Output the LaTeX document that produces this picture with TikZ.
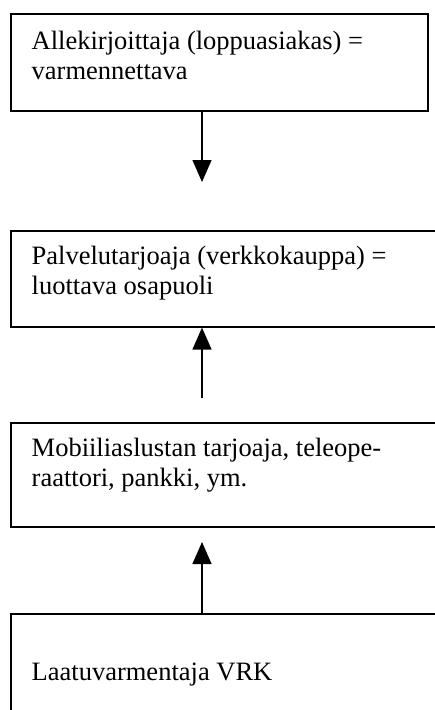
\documentclass[tikz,border=0pt]{standalone}
\usepackage{fontspec}
\setmainfont{Liberation Serif}
\usetikzlibrary{positioning,arrows.meta}

\begin{document}
\begin{tikzpicture}[
		x=1pt,y=-1pt,
		box/.style={
			draw,
			rectangle,
			line width=1.6pt,
			anchor=north west,
			inner sep=0pt,
			minimum width=417pt
		},
		txt/.style={
			anchor=base west,
			inner sep=0pt,
			align=left,
			font=\fontsize{26.5}{30}\selectfont
		},
		>={Triangle[width=19pt,length=22pt]}
		]
		\useasboundingbox (0,0) rectangle (435,710);
		\clip (0,0) rectangle (435,710);
		% boxes
		\node[box,minimum height=97pt] (signer) at (10,13) {};
		\node[box,minimum height=96pt,minimum width=440pt] (shop) at (10,230) {};
		\node[box,minimum height=104pt,minimum width=440pt] (mobile) at (10,422) {};
		\node[box,minimum height=120pt,minimum width=440pt] (vrk) at (10,613) {};
		% texts (base = last line)
		\node[txt] (signertxt) at (31.5,79.3) {Allekirjoittaja (loppuasiakas) =\\varmennettava};
		\node[txt] (shoptxt) at (31.5,294) {Palvelutarjoaja (verkkokauppa) =\\luottava osapuoli};
		\node[txt] (mobiletxt) at (31.5,486.7) {Mobiiliaslustan tarjoaja, teleope-\\raattori, pankki, ym.};
		\node[txt] (vrktxt) at (31.5,680.7) {Laatuvarmentaja VRK};
		% arrows
		\coordinate (a1) at (202,182);
		\coordinate (a2) at (202,398);
		\coordinate (a3) at (202,542);
		\draw[->,line width=1.4pt] (signer.south -| a1) -- (a1);
		\draw[->,line width=1.4pt] (a2) -- (shop.south -| a2);
		\draw[->,line width=1.4pt] (vrk.north -| a3) -- (a3);
\end{tikzpicture}
\end{document}
